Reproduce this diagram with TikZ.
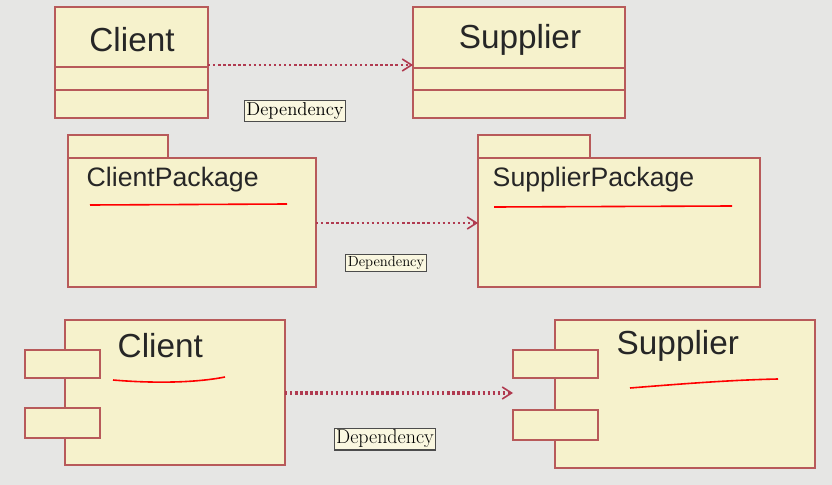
\documentclass[tikz,border=0pt]{standalone}
\usepackage{fontspec}
\setmainfont{Liberation Sans}
\usetikzlibrary{arrows.meta}
\definecolor{bg}{HTML}{E6E6E4}
\definecolor{fillc}{HTML}{F6F2CC}
\definecolor{edge}{HTML}{B85A5A}
\definecolor{dep}{HTML}{B03A50}
\tikzset{
  box/.style={draw=edge, fill=fillc, line width=1.5pt},
  title/.style={font=\fontsize{25}{28}\selectfont, text=black!85},
  ptitle/.style={font=\fontsize{20}{24}\selectfont, text=black!85},
  lbl/.style={draw=black!70, line width=0.8pt, fill=fillc!60, inner sep=1.5pt},
  dep/.style={draw=dep, line width=1.8pt, dotted, -{Straight Barb[length=7pt,width=9pt,line width=1.2pt]}},
  ul/.style={draw=red, line width=1.2pt},
}
\newcommand{\lfont}[1]{\fontfamily{lmr}\selectfont\fontsize{#1}{#1}\selectfont}
\begin{document}
\begin{tikzpicture}[x=0.75pt,y=-0.75pt]
\fill[bg] (0,0) rectangle (832,485);
\useasboundingbox (0,0) rectangle (832,485);
% classes
\draw[box] (55,7) rectangle (208,118);
\draw[edge,line width=1.5pt] (55,67) -- (208,67) (55,90) -- (208,90);
\node[title] (ct) at (132,40) {Client};
\coordinate (c1) at (208,65);
\draw[box] (413,7) rectangle (625,118);
\draw[edge,line width=1.5pt] (413,68) -- (625,68) (413,90) -- (625,90);
\node[title] (st) at (520,40) {Supplier};
\coordinate (s1) at (413,65);
\draw[dep] (c1) -- (s1);
\node[lbl,font=\lfont{14}] (l1) at (295,111) {Dependency};
% packages
\draw[box] (68,135) rectangle (168,158);
\draw[box] (68,158) rectangle (316,287);
\node[ptitle,anchor=west] (cp) at (82,180) {ClientPackage};
\draw[ul] (90,205) -- (287,204);
\draw[box] (478,135) rectangle (590,158);
\draw[box] (478,158) rectangle (760,287);
\node[ptitle,anchor=west] (sp) at (488,180) {SupplierPackage};
\draw[ul] (494,207) -- (732,206);
\coordinate (c2) at (316,223);
\coordinate (s2) at (478,223);
\draw[dep,line width=1.4pt] (c2) -- (s2);
\node[lbl,font=\lfont{11}] (l2) at (386,263) {Dependency};
% components
\draw[box] (65,320) rectangle (285,465);
\draw[box] (25,350) rectangle (100,378);
\draw[box] (25,408) rectangle (100,438);
\node[title,anchor=west] (cc) at (113,346) {Client};
\draw[ul] (113,380) .. controls (160,384) and (200,382) .. (225,377);
\draw[box] (555,320) rectangle (815,468);
\draw[box] (513,350) rectangle (598,378);
\draw[box] (513,410) rectangle (598,440);
\node[title,anchor=west] (sc) at (612,346) {Supplier};
\draw[ul] (630,388) .. controls (680,384) and (730,380) .. (778,379);
\coordinate (c3) at (285,393);
\coordinate (s3) at (513,393);
\draw[dep,line width=2.4pt] (c3) -- (s3);
\node[lbl,font=\lfont{15}] (l3) at (385,439) {Dependency};
\end{tikzpicture}
\end{document}
